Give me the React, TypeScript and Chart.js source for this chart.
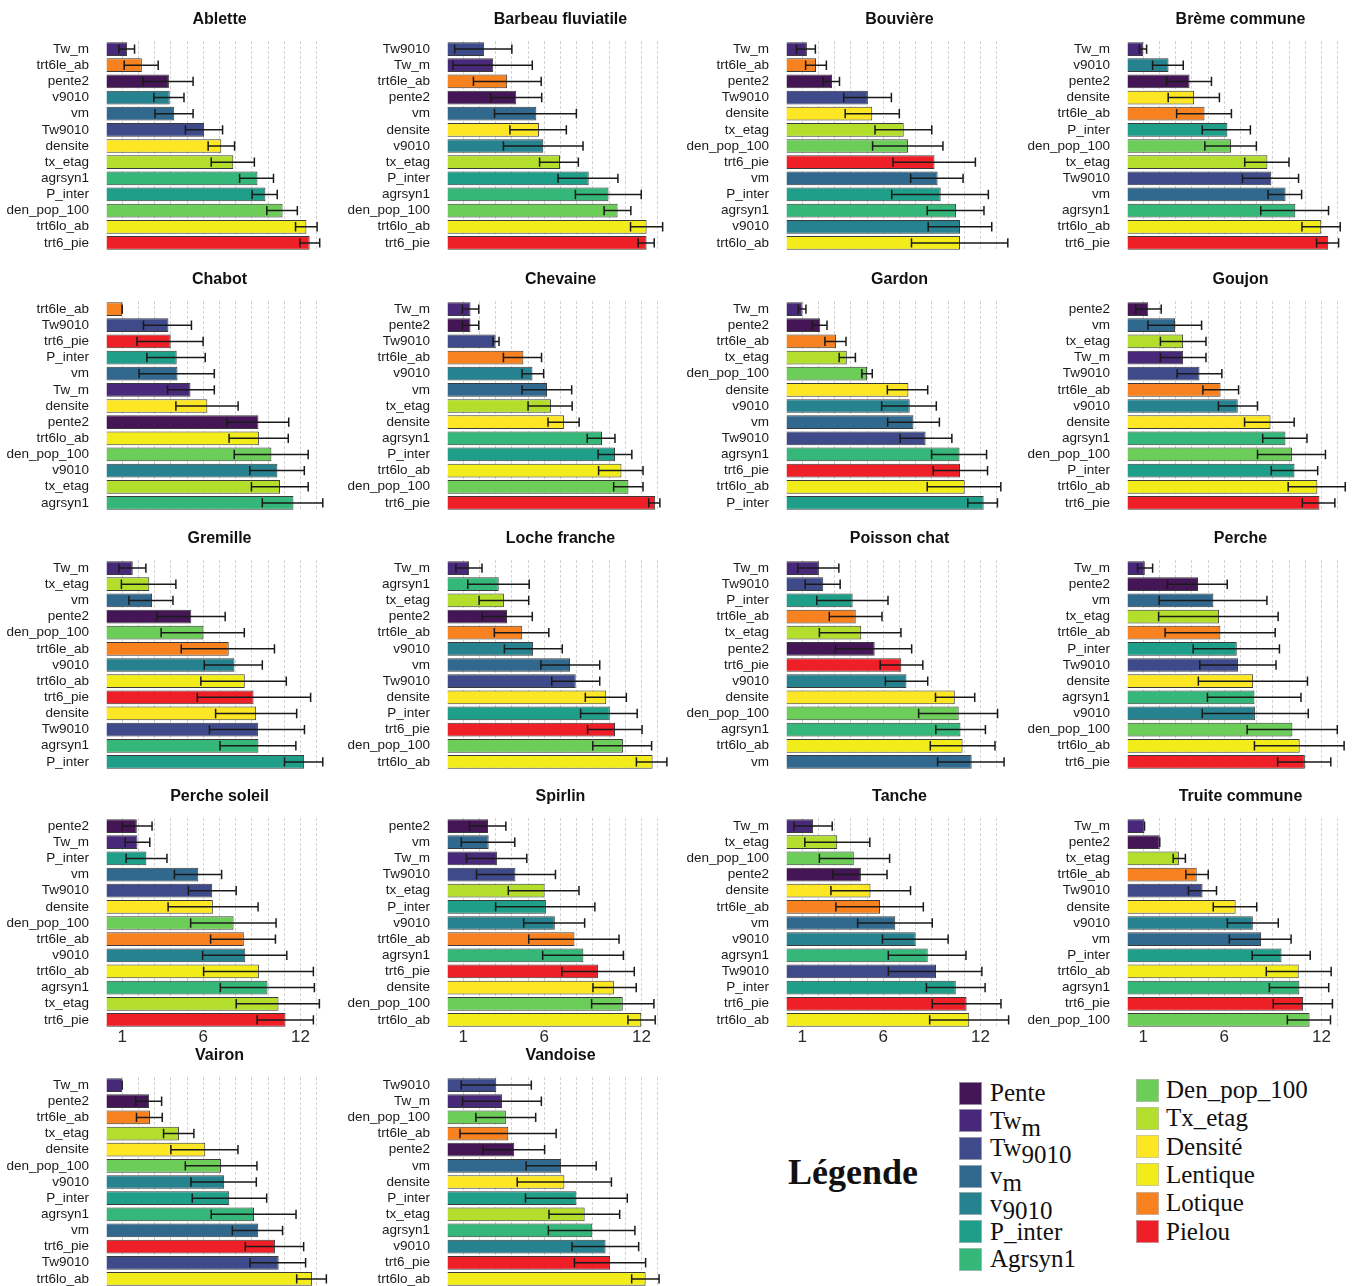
import React, { useEffect, useRef } from 'react';
import { Chart, registerables } from 'chart.js';

Chart.register(...registerables);

const FONT = '"Liberation Sans", Arial, Helvetica, sans-serif';
const SERIF = '"Liberation Serif", "Times New Roman", Times, serif';

// ---- colours per variable ----
const VAR_KEYS = ['pente2', 'Tw_m', 'Tw9010', 'vm', 'v9010', 'P_inter', 'agrsyn1', 'den_pop_100', 'tx_etag', 'densite', 'trt6lo_ab', 'trt6le_ab', 'trt6_pie'];
const VAR_COLOR_LIST = ['#441656', '#482878', '#3E4A89', '#31688E', '#26828E', '#1F9E89', '#35B779', '#6DCD59', '#B4DE2C', '#FDE725', '#F2EC1A', '#F8821F', '#EE1F26'];
const VAR_COLORS: Record<string, string> = Object.fromEntries(VAR_KEYS.map((k, i) => [k, VAR_COLOR_LIST[i]]));

// ---- x axis ----
const X_MAX = 14;
const X_TICK_LABELS = [1, 6, 12];

// ---- data (bar = mean, error bar lo/hi) ----
const ABLETTE_VARS = ['Tw_m', 'trt6le_ab', 'pente2', 'v9010', 'vm', 'Tw9010', 'densite', 'tx_etag', 'agrsyn1', 'P_inter', 'den_pop_100', 'trt6lo_ab', 'trt6_pie'];
const ABLETTE_MEAN = [1.30, 2.21, 3.88, 3.93, 4.21, 6.05, 7.11, 7.85, 9.34, 9.83, 10.89, 12.36, 12.56];
const ABLETTE_LO = [0.79, 1.12, 2.27, 2.95, 3.02, 4.90, 6.30, 6.49, 8.24, 9.01, 9.92, 11.69, 11.96];
const ABLETTE_HI = [1.76, 3.22, 5.37, 4.81, 5.37, 7.19, 7.93, 9.15, 10.33, 10.56, 11.80, 13.02, 13.18];

const BARBEAU_VARS = ['Tw9010', 'Tw_m', 'trt6le_ab', 'pente2', 'vm', 'densite', 'v9010', 'tx_etag', 'P_inter', 'agrsyn1', 'den_pop_100', 'trt6lo_ab', 'trt6_pie'];
const BARBEAU_MEAN = [2.29, 2.85, 3.71, 4.27, 5.51, 5.67, 5.94, 6.97, 8.74, 9.96, 10.52, 12.31, 12.31];
const BARBEAU_LO = [0.47, 0.37, 1.63, 2.70, 2.93, 3.88, 3.48, 5.71, 6.85, 7.92, 9.69, 11.32, 11.79];
const BARBEAU_HI = [4.00, 5.26, 5.81, 5.84, 7.98, 7.36, 8.39, 8.10, 10.54, 11.98, 11.34, 13.30, 12.78];

const BOUVIERE_VARS = ['Tw_m', 'trt6le_ab', 'pente2', 'Tw9010', 'densite', 'tx_etag', 'den_pop_100', 'trt6_pie', 'vm', 'P_inter', 'agrsyn1', 'v9010', 'trt6lo_ab'];
const BOUVIERE_MEAN = [1.29, 1.85, 2.84, 5.05, 5.32, 7.26, 7.53, 9.16, 9.35, 9.54, 10.49, 10.73, 10.73];
const BOUVIERE_LO = [0.65, 1.21, 2.28, 3.56, 3.65, 5.49, 5.34, 6.60, 7.69, 6.52, 8.71, 8.77, 7.74];
const BOUVIERE_HI = [1.81, 2.49, 3.30, 6.50, 6.99, 8.99, 9.68, 11.68, 10.92, 12.48, 12.21, 12.69, 13.68];

const BREME_VARS = ['Tw_m', 'v9010', 'pente2', 'densite', 'trt6le_ab', 'P_inter', 'den_pop_100', 'tx_etag', 'Tw9010', 'vm', 'agrsyn1', 'trt6lo_ab', 'trt6_pie'];
const BREME_MEAN = [1.00, 2.56, 3.86, 4.14, 4.78, 6.19, 6.42, 8.66, 8.90, 9.78, 10.38, 11.98, 12.41];
const BREME_LO = [0.76, 1.58, 2.44, 2.54, 3.06, 4.64, 4.80, 7.26, 7.12, 8.70, 8.25, 10.79, 11.69];
const BREME_HI = [1.21, 3.47, 5.21, 5.70, 6.44, 7.61, 7.98, 9.99, 10.58, 10.77, 12.43, 13.15, 13.05];

const CHABOT_VARS = ['trt6le_ab', 'Tw9010', 'trt6_pie', 'P_inter', 'vm', 'Tw_m', 'densite', 'pente2', 'trt6lo_ab', 'den_pop_100', 'v9010', 'tx_etag', 'agrsyn1'];
const CHABOT_MEAN = [1.00, 3.85, 3.99, 4.36, 4.41, 5.21, 6.25, 9.40, 9.43, 10.20, 10.57, 10.73, 11.56];
const CHABOT_LO = [1.00, 2.31, 1.91, 2.52, 2.04, 3.80, 4.31, 7.45, 7.59, 7.91, 8.87, 8.97, 9.64];
const CHABOT_HI = [1.00, 5.27, 5.99, 6.12, 6.68, 6.68, 8.15, 11.27, 11.24, 12.47, 12.23, 12.47, 13.37];

const CHEVAINE_VARS = ['Tw_m', 'pente2', 'Tw9010', 'trt6le_ab', 'v9010', 'vm', 'tx_etag', 'densite', 'agrsyn1', 'P_inter', 'trt6lo_ab', 'den_pop_100', 'trt6_pie'];
const CHEVAINE_MEAN = [1.45, 1.45, 3.00, 4.71, 5.27, 6.17, 6.41, 7.21, 9.56, 10.36, 10.76, 11.19, 12.84];
const CHEVAINE_LO = [0.95, 0.95, 2.84, 3.48, 4.63, 4.63, 5.00, 6.23, 8.65, 9.32, 9.35, 10.28, 12.44];
const CHEVAINE_HI = [1.96, 1.96, 3.21, 5.83, 5.96, 7.69, 7.72, 8.15, 10.36, 11.40, 12.09, 12.09, 13.13];

const GARDON_VARS = ['Tw_m', 'pente2', 'trt6le_ab', 'tx_etag', 'den_pop_100', 'densite', 'v9010', 'vm', 'Tw9010', 'agrsyn1', 'trt6_pie', 'trt6lo_ab', 'P_inter'];
const GARDON_MEAN = [1.02, 2.11, 3.09, 3.75, 5.00, 7.55, 7.63, 7.86, 8.61, 10.70, 10.73, 11.02, 12.19];
const GARDON_LO = [0.76, 1.63, 2.40, 3.28, 4.68, 6.25, 5.90, 6.27, 7.04, 8.98, 9.08, 8.71, 11.21];
const GARDON_HI = [1.23, 2.53, 3.70, 4.28, 5.32, 8.74, 9.27, 9.46, 10.23, 12.37, 12.43, 13.25, 13.04];

const GOUJON_VARS = ['pente2', 'vm', 'tx_etag', 'Tw_m', 'Tw9010', 'trt6le_ab', 'v9010', 'densite', 'agrsyn1', 'den_pop_100', 'P_inter', 'trt6lo_ab', 'trt6_pie'];
const GOUJON_MEAN = [1.31, 2.96, 3.46, 3.46, 4.47, 5.77, 6.83, 8.85, 9.77, 10.17, 10.33, 11.74, 11.87];
const GOUJON_LO = [0.54, 1.29, 2.06, 2.06, 3.09, 4.68, 5.64, 7.25, 8.37, 8.05, 8.90, 9.94, 10.81];
const GOUJON_HI = [2.11, 4.60, 4.87, 4.87, 5.85, 6.88, 8.05, 10.31, 11.10, 12.24, 11.76, 13.46, 12.82];

const GREMILLE_VARS = ['Tw_m', 'tx_etag', 'vm', 'pente2', 'den_pop_100', 'trt6le_ab', 'v9010', 'trt6lo_ab', 'trt6_pie', 'densite', 'Tw9010', 'agrsyn1', 'P_inter'];
const GREMILLE_MEAN = [1.65, 2.67, 2.84, 5.26, 6.01, 7.57, 7.92, 8.56, 9.10, 9.26, 9.37, 9.40, 12.22];
const GREMILLE_LO = [0.79, 0.95, 1.41, 3.13, 3.40, 4.64, 6.06, 5.85, 5.63, 6.76, 6.38, 7.03, 11.01];
const GREMILLE_HI = [2.46, 4.31, 4.13, 7.35, 8.53, 10.39, 9.64, 11.12, 12.62, 11.76, 12.24, 11.71, 13.37];

const LOCHE_VARS = ['Tw_m', 'agrsyn1', 'tx_etag', 'pente2', 'trt6le_ab', 'v9010', 'vm', 'Tw9010', 'densite', 'P_inter', 'trt6_pie', 'den_pop_100', 'trt6lo_ab'];
const LOCHE_MEAN = [1.36, 3.19, 3.51, 3.70, 4.64, 5.31, 7.59, 7.94, 9.82, 10.04, 10.36, 10.85, 12.68];
const LOCHE_LO = [0.55, 1.28, 1.98, 2.16, 2.92, 3.54, 5.79, 6.46, 8.53, 8.24, 8.67, 8.99, 11.68];
const LOCHE_HI = [2.16, 5.07, 5.04, 5.26, 6.28, 7.11, 9.42, 9.42, 11.06, 11.73, 12.03, 12.62, 13.56];

const POISSON_VARS = ['Tw_m', 'Tw9010', 'P_inter', 'trt6le_ab', 'tx_etag', 'pente2', 'trt6_pie', 'v9010', 'densite', 'den_pop_100', 'agrsyn1', 'trt6lo_ab', 'vm'];
const POISSON_MEAN = [2.03, 2.30, 4.11, 4.30, 4.64, 5.47, 7.11, 7.43, 10.41, 10.65, 10.76, 10.89, 11.45];
const POISSON_LO = [0.73, 1.18, 1.90, 2.67, 2.06, 3.05, 5.81, 6.13, 9.22, 8.18, 9.24, 8.90, 9.35];
const POISSON_HI = [3.26, 3.34, 6.29, 5.92, 7.09, 7.75, 8.44, 8.74, 11.64, 13.05, 12.30, 12.89, 13.45];

const PERCHE_VARS = ['Tw_m', 'pente2', 'vm', 'tx_etag', 'trt6le_ab', 'P_inter', 'Tw9010', 'densite', 'agrsyn1', 'v9010', 'den_pop_100', 'trt6lo_ab', 'trt6_pie'];
const PERCHE_MEAN = [1.10, 4.38, 5.33, 5.68, 5.76, 6.77, 6.85, 7.78, 7.86, 7.89, 10.20, 10.65, 10.97];
const PERCHE_LO = [0.65, 2.49, 1.98, 1.95, 2.35, 4.08, 4.49, 4.40, 4.96, 4.64, 7.41, 7.86, 9.29];
const PERCHE_HI = [1.58, 6.18, 8.63, 9.32, 9.14, 9.40, 9.19, 11.13, 10.73, 11.18, 12.97, 13.39, 12.57];

const PSOLEIL_VARS = ['pente2', 'Tw_m', 'P_inter', 'vm', 'Tw9010', 'densite', 'den_pop_100', 'trt6le_ab', 'v9010', 'trt6lo_ab', 'agrsyn1', 'tx_etag', 'trt6_pie'];
const PSOLEIL_MEAN = [1.90, 1.94, 2.49, 5.69, 6.55, 6.59, 7.87, 8.50, 8.59, 9.43, 9.96, 10.64, 11.07];
const PSOLEIL_LO = [0.99, 1.18, 1.24, 4.22, 5.08, 3.83, 5.22, 6.45, 5.96, 6.02, 7.05, 8.03, 9.32];
const PSOLEIL_HI = [2.84, 2.70, 3.76, 7.13, 8.03, 9.38, 10.49, 10.45, 11.15, 12.79, 12.85, 13.16, 12.79];

const SPIRLIN_VARS = ['pente2', 'vm', 'Tw_m', 'Tw9010', 'tx_etag', 'P_inter', 'v9010', 'trt6le_ab', 'agrsyn1', 'trt6_pie', 'densite', 'den_pop_100', 'trt6lo_ab'];
const SPIRLIN_MEAN = [2.53, 2.57, 3.08, 4.22, 6.02, 6.10, 6.65, 7.86, 8.41, 9.31, 10.29, 10.84, 11.98];
const SPIRLIN_LO = [1.39, 0.88, 1.20, 1.82, 3.78, 3.00, 4.73, 5.04, 5.90, 7.08, 9.00, 8.92, 11.16];
const SPIRLIN_HI = [3.63, 4.18, 4.92, 6.69, 8.14, 9.12, 8.49, 10.61, 10.88, 11.55, 11.67, 12.76, 12.84];

const TANCHE_VARS = ['Tw_m', 'tx_etag', 'den_pop_100', 'pente2', 'densite', 'trt6le_ab', 'vm', 'v9010', 'agrsyn1', 'Tw9010', 'P_inter', 'trt6_pie', 'trt6lo_ab'];
const TANCHE_MEAN = [1.67, 3.16, 4.18, 4.62, 5.21, 5.80, 6.74, 8.00, 8.74, 9.25, 10.47, 11.14, 11.30];
const TANCHE_LO = [0.49, 1.16, 2.06, 2.89, 2.77, 3.08, 4.42, 5.95, 6.31, 6.31, 8.66, 9.02, 8.86];
const TANCHE_HI = [2.85, 5.17, 6.39, 6.23, 7.68, 8.47, 9.02, 10.00, 11.10, 12.08, 12.28, 13.26, 13.73];

const TRUITE_VARS = ['Tw_m', 'pente2', 'tx_etag', 'trt6le_ab', 'Tw9010', 'densite', 'v9010', 'vm', 'P_inter', 'trt6lo_ab', 'agrsyn1', 'trt6_pie', 'den_pop_100'];
const TRUITE_MEAN = [1.08, 2.02, 3.20, 4.30, 4.66, 6.70, 7.76, 8.27, 9.53, 10.59, 10.63, 10.86, 11.26];
const TRUITE_LO = [1.08, 2.02, 2.85, 3.63, 3.79, 5.32, 6.19, 6.31, 7.72, 8.59, 8.78, 9.02, 9.89];
const TRUITE_HI = [1.08, 2.02, 3.60, 5.01, 5.52, 8.00, 9.33, 10.12, 11.30, 12.59, 12.44, 12.67, 12.55];

const VAIRON_VARS = ['Tw_m', 'pente2', 'trt6le_ab', 'tx_etag', 'densite', 'den_pop_100', 'v9010', 'P_inter', 'agrsyn1', 'vm', 'trt6_pie', 'Tw9010', 'trt6lo_ab'];
const VAIRON_MEAN = [1.00, 2.66, 2.71, 4.50, 6.12, 7.09, 7.29, 7.60, 9.13, 9.39, 10.42, 10.65, 12.71];
const VAIRON_LO = [1.00, 1.84, 1.88, 3.55, 4.00, 4.89, 5.24, 5.32, 6.49, 7.79, 8.59, 8.88, 11.76];
const VAIRON_HI = [1.00, 3.43, 3.47, 5.42, 8.14, 9.31, 9.27, 9.91, 11.72, 10.89, 12.19, 12.31, 13.59];

const VANDOISE_VARS = ['Tw9010', 'Tw_m', 'den_pop_100', 'trt6le_ab', 'pente2', 'vm', 'densite', 'P_inter', 'tx_etag', 'agrsyn1', 'v9010', 'trt6_pie', 'trt6lo_ab'];
const VANDOISE_MEAN = [3.04, 3.39, 3.63, 3.78, 4.14, 7.04, 7.24, 7.98, 8.49, 8.96, 9.78, 10.06, 12.25];
const VANDOISE_LO = [0.88, 0.96, 1.78, 0.80, 2.22, 4.88, 4.33, 4.84, 6.29, 6.25, 7.71, 7.86, 11.39];
const VANDOISE_HI = [5.20, 5.82, 5.47, 6.73, 6.02, 9.20, 10.14, 11.12, 10.65, 11.59, 11.82, 12.25, 13.08];

// ---- legend ----
const LEGEND_COL1_KEYS = ['pente2', 'Tw_m', 'Tw9010', 'vm', 'v9010', 'P_inter', 'agrsyn1'];
const LEGEND_COL1_MAIN = ['Pente', 'Tw', 'Tw', 'v', 'v', 'P_inter', 'Agrsyn1'];
const LEGEND_COL1_SUB = ['', 'm', '9010', 'm', '9010', '', ''];
const LEGEND_COL2_KEYS = ['den_pop_100', 'tx_etag', 'densite', 'trt6lo_ab', 'trt6le_ab', 'trt6_pie'];
const LEGEND_COL2_MAIN = ['Den_pop_100', 'Tx_etag', 'Densité', 'Lentique', 'Lotique', 'Pielou'];

type PanelDef = { title: string; vars: string[]; mean: number[]; lo: number[]; hi: number[] };

const PANELS: PanelDef[] = [
  { title: 'Ablette', vars: ABLETTE_VARS, mean: ABLETTE_MEAN, lo: ABLETTE_LO, hi: ABLETTE_HI },
  { title: 'Barbeau fluviatile', vars: BARBEAU_VARS, mean: BARBEAU_MEAN, lo: BARBEAU_LO, hi: BARBEAU_HI },
  { title: 'Bouvière', vars: BOUVIERE_VARS, mean: BOUVIERE_MEAN, lo: BOUVIERE_LO, hi: BOUVIERE_HI },
  { title: 'Brème commune', vars: BREME_VARS, mean: BREME_MEAN, lo: BREME_LO, hi: BREME_HI },
  { title: 'Chabot', vars: CHABOT_VARS, mean: CHABOT_MEAN, lo: CHABOT_LO, hi: CHABOT_HI },
  { title: 'Chevaine', vars: CHEVAINE_VARS, mean: CHEVAINE_MEAN, lo: CHEVAINE_LO, hi: CHEVAINE_HI },
  { title: 'Gardon', vars: GARDON_VARS, mean: GARDON_MEAN, lo: GARDON_LO, hi: GARDON_HI },
  { title: 'Goujon', vars: GOUJON_VARS, mean: GOUJON_MEAN, lo: GOUJON_LO, hi: GOUJON_HI },
  { title: 'Gremille', vars: GREMILLE_VARS, mean: GREMILLE_MEAN, lo: GREMILLE_LO, hi: GREMILLE_HI },
  { title: 'Loche franche', vars: LOCHE_VARS, mean: LOCHE_MEAN, lo: LOCHE_LO, hi: LOCHE_HI },
  { title: 'Poisson chat', vars: POISSON_VARS, mean: POISSON_MEAN, lo: POISSON_LO, hi: POISSON_HI },
  { title: 'Perche', vars: PERCHE_VARS, mean: PERCHE_MEAN, lo: PERCHE_LO, hi: PERCHE_HI },
  { title: 'Perche soleil', vars: PSOLEIL_VARS, mean: PSOLEIL_MEAN, lo: PSOLEIL_LO, hi: PSOLEIL_HI },
  { title: 'Spirlin', vars: SPIRLIN_VARS, mean: SPIRLIN_MEAN, lo: SPIRLIN_LO, hi: SPIRLIN_HI },
  { title: 'Tanche', vars: TANCHE_VARS, mean: TANCHE_MEAN, lo: TANCHE_LO, hi: TANCHE_HI },
  { title: 'Truite commune', vars: TRUITE_VARS, mean: TRUITE_MEAN, lo: TRUITE_LO, hi: TRUITE_HI },
  { title: 'Vairon', vars: VAIRON_VARS, mean: VAIRON_MEAN, lo: VAIRON_LO, hi: VAIRON_HI },
  { title: 'Vandoise', vars: VANDOISE_VARS, mean: VANDOISE_MEAN, lo: VANDOISE_LO, hi: VANDOISE_HI },
];

// ---- layout ----
const COL_LEFT = [0, 341, 680, 1021];
const ROW_TOP = [0, 260, 519, 777, 1036];
const CANVAS_W = 333;
const CANVAS_H = 291;
const Y_AXIS_W = 106;
const X_AXIS_H = 40;

function Panel({ def, left, top, showTicks }: { def: PanelDef; left: number; top: number; showTicks: boolean }) {
  const ref = useRef<HTMLCanvasElement | null>(null);
  useEffect(() => {
    if (!ref.current) return;
    const errPlugin = {
      id: 'errbars',
      afterDraw(chart: any) {
        const { ctx } = chart;
        const xs = chart.scales.x;
        const meta = chart.getDatasetMeta(0);
        ctx.save();
        ctx.strokeStyle = '#1a1a1a';
        ctx.lineWidth = 1.5;
        meta.data.forEach((bar: any, i: number) => {
          const y = bar.y;
          const x1 = xs.getPixelForValue(def.lo[i]);
          const x2 = xs.getPixelForValue(def.hi[i]);
          const h = bar.height * 0.34;
          ctx.beginPath();
          ctx.moveTo(x1, y);
          ctx.lineTo(x2, y);
          ctx.moveTo(x1, y - h);
          ctx.lineTo(x1, y + h);
          ctx.moveTo(x2, y - h);
          ctx.lineTo(x2, y + h);
          ctx.stroke();
        });
        ctx.restore();
      },
    };
    const chart = new Chart(ref.current, {
      type: 'bar',
      data: {
        labels: def.vars,
        datasets: [
          {
            data: def.mean,
            backgroundColor: def.vars.map((v) => VAR_COLORS[v]),
            borderColor: '#3a3a3a',
            borderWidth: 1,
            barPercentage: 0.85,
            categoryPercentage: 1,
          },
        ],
      },
      options: {
        indexAxis: 'y',
        responsive: false,
        maintainAspectRatio: false,
        animation: false,
        layout: { padding: 0 },
        plugins: {
          legend: { display: false },
          tooltip: { enabled: false },
          title: {
            display: true,
            text: def.title,
            fullSize: false,
            color: '#111',
            font: { family: FONT, size: 16, weight: 'bold' },
            padding: { top: 10.4, bottom: 11.4 },
          },
        },
        scales: {
          x: {
            type: 'linear',
            min: 0,
            max: X_MAX,
            z: 1,
            afterFit: (s: any) => {
              s.height = X_AXIS_H;
            },
            ticks: {
              stepSize: 1,
              autoSkip: false,
              maxRotation: 0,
              padding: -1,
              color: showTicks ? '#2a2a2a' : 'rgba(0,0,0,0)',
              font: { family: FONT, size: 17 },
              callback: (v: any) => (X_TICK_LABELS.includes(Number(v)) ? String(v) : ''),
            },
            grid: {
              drawTicks: false,
              lineWidth: 1,
              color: (c: any) =>
                c.tick && c.tick.value > 0 && c.tick.value < X_MAX ? 'rgba(200,200,200,0.8)' : 'rgba(0,0,0,0)',
            },
            border: { display: false, dash: [3, 2] },
          },
          y: {
            type: 'category',
            offset: true,
            afterFit: (s: any) => {
              s.width = Y_AXIS_W;
            },
            grid: { display: false, drawTicks: false },
            border: { display: false },
            ticks: {
              autoSkip: false,
              padding: 17,
              color: '#1a1a1a',
              font: { family: FONT, size: 13.5 },
            },
          },
        },
      } as any,
      plugins: [errPlugin],
    });
    return () => chart.destroy();
  }, [def, showTicks]);
  return (
    <canvas
      ref={ref}
      width={CANVAS_W}
      height={CANVAS_H}
      style={{ position: 'absolute', left, top, width: CANVAS_W, height: CANVAS_H }}
    />
  );
}

function Swatch({ color }: { color: string }) {
  return (
    <div
      style={{
        width: 23,
        height: 23,
        background: color,
        boxSizing: 'border-box',
        border: '1px solid rgba(190,190,190,0.7)',
      }}
    />
  );
}

export default function App() {
  return (
    <div
      style={{
        position: 'absolute',
        left: 0,
        top: 0,
        width: 1352,
        height: 1286,
        overflow: 'hidden',
        background: '#ffffff',
      }}
    >
      {PANELS.map((p, i) => {
        const r = Math.floor(i / 4);
        const c = i % 4;
        return <Panel key={p.title} def={p} left={COL_LEFT[c]} top={ROW_TOP[r]} showTicks={r >= 3} />;
      })}
      <div
        style={{
          position: 'absolute',
          left: 788,
          top: 1150,
          fontFamily: SERIF,
          fontWeight: 'bold',
          fontSize: 36,
          lineHeight: '44px',
          color: '#111',
        }}
      >
        Légende
      </div>
      {LEGEND_COL1_KEYS.map((k, i) => (
        <div
          key={k}
          style={{
            position: 'absolute',
            left: 959,
            top: 1081 + i * 27.7,
            display: 'flex',
            alignItems: 'center',
            height: 24,
          }}
        >
          <Swatch color={VAR_COLORS[k]} />
          <span style={{ marginLeft: 8, fontFamily: SERIF, fontSize: 25, lineHeight: '24px', color: '#111', whiteSpace: 'nowrap' }}>
            {LEGEND_COL1_MAIN[i]}
            {LEGEND_COL1_SUB[i] ? (
              <span style={{ position: 'relative', top: 7 }}>{LEGEND_COL1_SUB[i]}</span>
            ) : null}
          </span>
        </div>
      ))}
      {LEGEND_COL2_KEYS.map((k, i) => (
        <div
          key={k}
          style={{
            position: 'absolute',
            left: 1136,
            top: 1078 + i * 28.3,
            display: 'flex',
            alignItems: 'center',
            height: 24,
          }}
        >
          <Swatch color={VAR_COLORS[k]} />
          <span style={{ marginLeft: 7, fontFamily: SERIF, fontSize: 25, lineHeight: '24px', color: '#111', whiteSpace: 'nowrap' }}>
            {LEGEND_COL2_MAIN[i]}
          </span>
        </div>
      ))}
    </div>
  );
}
